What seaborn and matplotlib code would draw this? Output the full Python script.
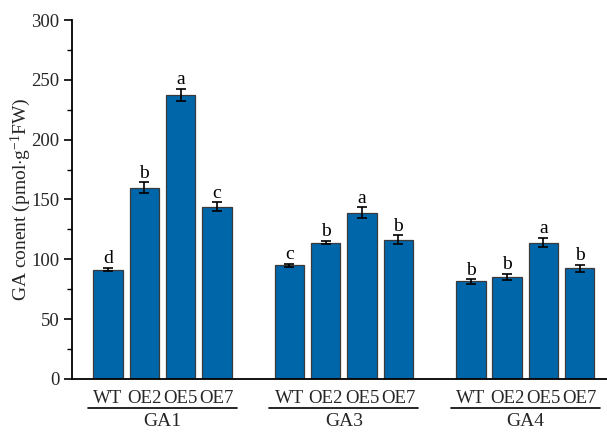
import numpy as np
import pandas as pd
import matplotlib
matplotlib.use("Agg")
import matplotlib.pyplot as plt
import matplotlib.transforms as mtransforms
from matplotlib.ticker import MultipleLocator
import seaborn as sns

groups = ["GA1", "GA3", "GA4"]
lines = ["WT", "OE2", "OE5", "OE7"]
values = {
    "GA1": [91.5, 160.0, 237.5, 144.0],
    "GA3": [95.0, 114.0, 139.0, 116.5],
    "GA4": [81.5, 85.5, 114.0, 92.5],
}
errors = {
    "GA1": [1.5, 4.5, 5.0, 3.5],
    "GA3": [1.5, 1.5, 4.5, 3.5],
    "GA4": [2.0, 2.5, 4.0, 3.0],
}
letters = {
    "GA1": ["d", "b", "a", "c"],
    "GA3": ["c", "b", "a", "b"],
    "GA4": ["b", "b", "a", "b"],
}

rows = []
for g_i, g in enumerate(groups):
    for l_i, ln in enumerate(lines):
        rows.append({"group": g, "line": ln, "pos": g_i * 5 + l_i,
                     "value": values[g][l_i], "err": errors[g][l_i],
                     "letter": letters[g][l_i]})
df = pd.DataFrame(rows)

sns.set_theme(style="ticks")
plt.rcParams["font.family"] = ["Liberation Serif", "DejaVu Serif"]
plt.rcParams["mathtext.fontset"] = "custom"
plt.rcParams["mathtext.rm"] = "Liberation Serif"
plt.rcParams["mathtext.it"] = "Liberation Serif:italic"

fig = plt.figure(figsize=(6.07, 4.32), dpi=100)
ax = fig.add_axes([0.1186, 0.1227, 0.8814, 0.831])

sns.barplot(data=df, x="pos", y="value", native_scale=True, width=0.81,
            color="#0066AA", saturation=1, edgecolor="#3a3a3a", linewidth=0.9,
            errorbar=None, ax=ax)
ax.errorbar(df["pos"], df["value"], yerr=df["err"], fmt="none",
            ecolor="black", elinewidth=1.2, capsize=3.8, capthick=1.2)
for _, r in df.iterrows():
    ax.text(r["pos"], r["value"] + r["err"] + 0.3, r["letter"],
            ha="center", va="bottom", fontsize=14, color="black")

ax.set_xlim(-0.99, 13.75)
ax.set_ylim(0, 300)
ax.yaxis.set_major_locator(MultipleLocator(50))
ax.yaxis.set_minor_locator(MultipleLocator(25))
ax.tick_params(axis="y", which="major", length=6, width=1.2, labelsize=13.5,
               direction="out", color="black", pad=3)
ax.tick_params(axis="y", which="minor", length=3.5, width=1.0, direction="out",
               color="black")
ax.set_xticks(df["pos"])
ax.set_xticklabels(df["line"])
ax.tick_params(axis="x", length=0, labelsize=13.5, pad=8)
ax.set_xlabel("")
ax.set_ylabel("GA conent (pmol$\\cdot$g$^{-1}$FW)", fontsize=14)
ax.yaxis.set_label_coords(-0.072, 0.5)

sns.despine(ax=ax)
for s in ["left", "bottom"]:
    ax.spines[s].set_linewidth(1.3)
    ax.spines[s].set_color("black")

trans = mtransforms.blended_transform_factory(ax.transData, ax.transAxes)
for g_i, g in enumerate(groups):
    start = g_i * 5 - 0.55
    end = g_i * 5 + 3 + 0.55
    ax.plot([start, end], [-0.081, -0.081], transform=trans, color="black",
            lw=1.2, clip_on=False)
    ax.text((start + end) / 2, -0.094, g, transform=trans, ha="center",
            va="top", fontsize=14)

fig.savefig("out.png", dpi=100)
